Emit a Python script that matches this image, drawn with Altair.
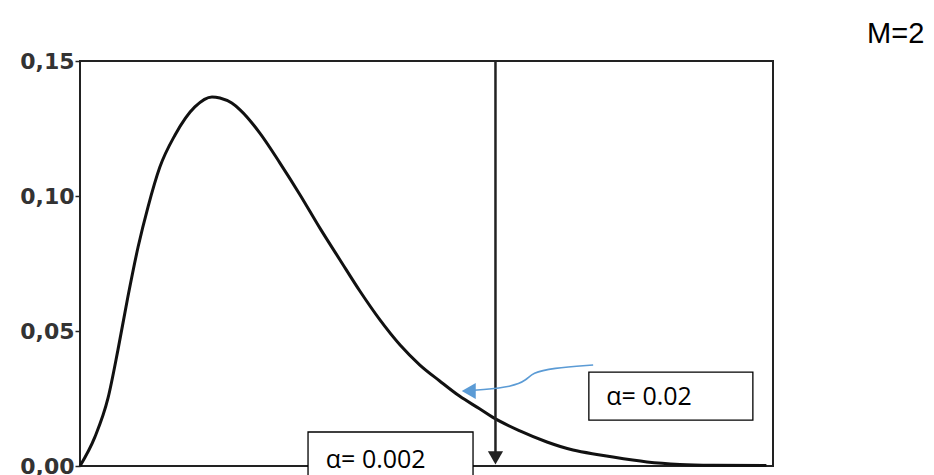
import altair as alt
import pandas as pd

# density curve (x in arbitrary units, y density)
curve_x = [0, 0.45, 0.85, 1.15, 1.45, 1.76, 2.06, 2.42, 2.88, 3.48, 4.0, 4.24, 4.6, 4.85,
           5.45, 6.06, 6.67, 7.27, 7.88, 8.48, 9.09, 9.7, 10.3, 10.9, 11.5, 12.12, 12.5,
           13.33, 14.15, 14.94, 15.76, 16.15, 17.18, 18.18, 19.18, 20.8]
curve_y = [0.0, 0.0107, 0.0252, 0.043, 0.0626, 0.0811, 0.0959, 0.1107, 0.1226, 0.133, 0.1367,
           0.1363, 0.1344, 0.1319, 0.1233, 0.1122, 0.1004, 0.0881, 0.0763, 0.0648, 0.0541,
           0.0448, 0.0374, 0.0315, 0.0259, 0.0211, 0.0181, 0.0130, 0.0089, 0.0059, 0.0041,
           0.0033, 0.0015, 0.0006, 0.0003, 0.0002]

y_ticks = [0.0, 0.05, 0.10, 0.15]
critical_x = 12.59

# annotation boxes / labels
box_labels = ["α= 0.02", "α= 0.002"]
box_x1 = [15.42, 6.91]
box_x2 = [20.39, 11.91]
box_y1 = [0.0348, 0.0126]
box_y2 = [0.0170, -0.0045]
label_x = [15.95, 7.45]
label_y = [0.0256, 0.0022]

# blue pointer path
pointer_x = [15.55, 14.3, 13.7, 13.55, 13.1, 12.1, 11.9]
pointer_y = [0.0374, 0.0363, 0.0344, 0.0320, 0.0293, 0.0282, 0.0280]

title_text = "M=2"

curve_df = pd.DataFrame({"x": curve_x, "y": curve_y})
box_df = pd.DataFrame({"label": box_labels, "x1": box_x1, "x2": box_x2,
                       "y1": box_y1, "y2": box_y2, "lx": label_x, "ly": label_y})
ptr_df = pd.DataFrame({"x": pointer_x, "y": pointer_y, "i": list(range(len(pointer_x)))})

xs = alt.Scale(domain=[0, 21], nice=False, zero=False)
ys = alt.Scale(domain=[0, 0.15], nice=False, zero=False)

yaxis = alt.Axis(values=y_ticks, labelExpr="replace(format(datum.value, '.2f'), '.', ',')",
                 domain=False, grid=False, ticks=True, tickSize=5, tickColor="#222",
                 tickWidth=1.5, labelFont="DejaVu Sans", labelFontWeight="bold",
                 labelFontSize=22, labelColor="#333", labelPadding=1, labelFlush=False,
                 labelOverlap=False, title=None)

line = alt.Chart(curve_df).mark_line(color="#111", strokeWidth=3, interpolate="monotone").encode(
    x=alt.X("x:Q", scale=xs, axis=None),
    y=alt.Y("y:Q", scale=ys, axis=yaxis),
)

crit_df = pd.DataFrame({"x": [critical_x], "top": [0.15], "bot": [0.004], "head": [0.0030]})
rule = alt.Chart(crit_df).mark_rule(color="#222", strokeWidth=2.5).encode(
    x=alt.X("x:Q", scale=xs), y=alt.Y("top:Q", scale=ys), y2="bot:Q")
head = alt.Chart(crit_df).mark_point(shape="triangle-down", filled=True, size=230,
                                     color="#222", opacity=1).encode(
    x=alt.X("x:Q", scale=xs), y=alt.Y("head:Q", scale=ys))

boxes = alt.Chart(box_df).mark_rect(fill="white", stroke="black", strokeWidth=1.3).encode(
    x=alt.X("x1:Q", scale=xs), x2="x2:Q", y=alt.Y("y1:Q", scale=ys), y2="y2:Q")
labels = alt.Chart(box_df).mark_text(align="left", baseline="middle", font="Open Sans",
                                     fontSize=25, color="black").encode(
    x=alt.X("lx:Q", scale=xs), y=alt.Y("ly:Q", scale=ys), text="label:N")

ptr = alt.Chart(ptr_df).mark_line(color="#5B9BD5", strokeWidth=1.6, interpolate="basis").encode(
    x=alt.X("x:Q", scale=xs), y=alt.Y("y:Q", scale=ys), order="i:Q")
ptr_head_df = pd.DataFrame({"x": [11.78], "y": [0.0278]})
ptr_head = alt.Chart(ptr_head_df).mark_point(shape="triangle-left", filled=True, size=260,
                                             color="#5B9BD5", opacity=1).encode(
    x=alt.X("x:Q", scale=xs), y=alt.Y("y:Q", scale=ys))

title_df = pd.DataFrame({"x": [23.85], "y": [0.160], "t": [title_text]})
title = alt.Chart(title_df).mark_text(align="left", baseline="middle", font="Liberation Sans",
                                      fontSize=29, color="black").encode(
    x=alt.X("x:Q", scale=xs), y=alt.Y("y:Q", scale=ys), text="t:N")

chart = alt.layer(line, rule, head, ptr, ptr_head, boxes, labels, title).properties(
    width=693, height=405,
    padding={"left": 80, "top": 61, "right": 161, "bottom": 9},
    autosize=alt.AutoSizeParams(type="none"),
    background="white",
).configure_view(stroke="#222", strokeWidth=2)

chart.save("out.html", embed_options={"renderer": "svg", "actions": False})
